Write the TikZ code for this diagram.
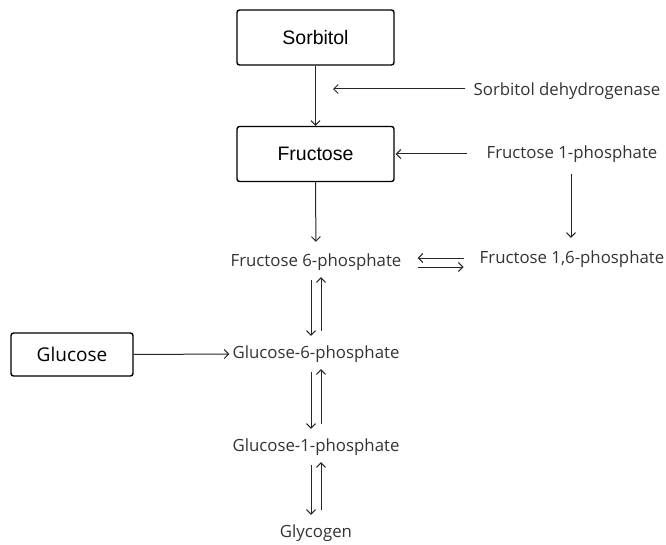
\documentclass[tikz,border=0pt]{standalone}
\usepackage{fontspec}
\setmainfont{Open Sans}
\newfontfamily\boxfont{Liberation Sans}
\usetikzlibrary{arrows.meta}
\tikzset{
  metabox/.style={draw,line width=1.4pt,rounded corners=2.5pt,minimum width=157,minimum height=55,font=\boxfont\fontsize{19.5}{22}\selectfont},
  metab/.style={inner sep=0pt,text height=12,text depth=4,font=\fontsize{16.8}{19}\selectfont,text=black!80},
  arr/.style={->,line width=1pt,black!85},
}
\begin{document}
\begin{tikzpicture}[x=1pt,y=-1pt,>={Straight Barb[length=4.5pt,width=9pt]}]
    \useasboundingbox (0,0) rectangle (666,545) ;
    \node [metabox] (sorb) at (315.5,37.5) {Sorbitol} ;
    \node [metabox] (fruc) at (315.5,154) {Fructose} ;
    \node [metabox,minimum width=122,minimum height=43,font=\fontsize{19}{22}\selectfont] (gluc) at (72,354.5) {Glucose} ;
    \node [metab] (sdh) at (567,92) {Sorbitol dehydrogenase} ;
    \node [metab] (f1p) at (572,155) {Fructose 1-phosphate} ;
    \node [metab] (f6p) at (316,262) {Fructose 6-phosphate} ;
    \node [metab] (f16p) at (572,259) {Fructose 1,6-phosphate} ;
    \node [metab] (g6p) at (316,354) {Glucose-6-phosphate} ;
    \node [metab] (g1p) at (316,447) {Glucose-1-phosphate} ;
    \node [metab] (glyc) at (316,533) {Glycogen} ;
    \coordinate (sdhend) at (333,89) ;
    % top of the pathway
    \draw [arr] (sorb) -- (fruc) ;
    \draw [arr,shorten <=8pt] (sdh.west |- sdhend) -- (sdhend) ;
    \draw [arr,shorten <=19pt,shorten >=1pt] (f1p.west |- fruc.east) -- (fruc.east) ;
    \draw [arr,shorten <=11pt,shorten >=13pt] (f1p.south -| 571,0) -- (f16p.north -| 571,0) ;
    \draw [arr,shorten >=12pt] (fruc.south) -- (f6p.north) ;
    \draw [arr,shorten <=16pt,shorten >=16pt] ([yshift=1]f16p.west) -- ([yshift=4]f6p.east) ;
    \draw [arr,shorten <=16pt,shorten >=16pt] ([yshift=-5]f6p.east) -- ([yshift=-8]f16p.west) ;
    \draw [arr,shorten >=3pt] (gluc.east) -- (g6p.west) ;
    % reversible steps
    \foreach \a/\b in {f6p/g6p,g6p/g1p,g1p/glyc} {
      \draw [arr,shorten <=10pt,shorten >=10pt] ([xshift=-5]\a.south) -- ([xshift=-5]\b.north) ;
      \draw [arr,shorten <=15pt,shorten >=7pt] ([xshift=5]\b.north) -- ([xshift=5]\a.south) ;
    }
\end{tikzpicture}
\end{document}
